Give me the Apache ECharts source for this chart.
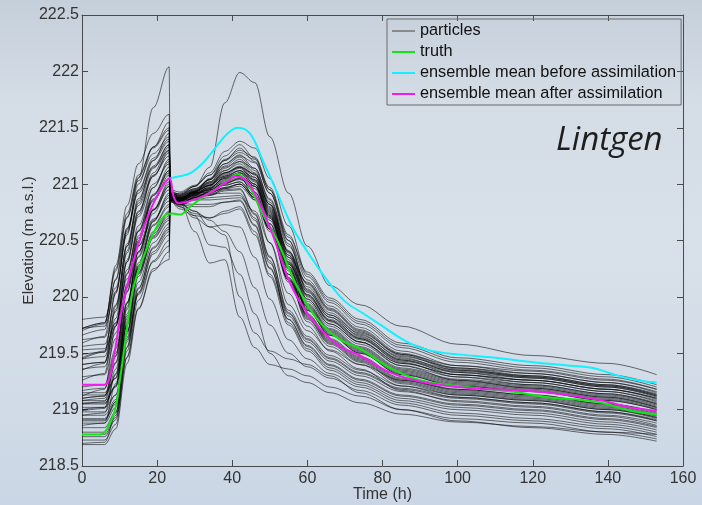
<!DOCTYPE html>
<html>
<head>
<meta charset="utf-8">
<script src="https://cdn.jsdelivr.net/npm/echarts@6/dist/echarts.min.js"></script>
<style>
html,body{margin:0;padding:0;width:702px;height:505px;overflow:hidden;background:#d3dce6;}
#c{width:702px;height:505px;}
</style>
</head>
<body>
<div id="c"></div>
<script>
// ---- data ----
const times = [0, 6, 9, 12, 15, 19, 23.2, 23.5, 26, 30, 34, 38, 42, 46, 50, 55, 60, 66, 74, 85, 100, 120, 140, 153];
const particles = [
[219.80,219.82,220.08,220.55,221.05,221.68,222.04,220.90,220.92,220.98,221.15,221.72,221.99,221.90,221.42,220.92,220.45,220.10,219.93,219.74,219.58,219.48,219.41,219.31],
[218.70,218.71,218.95,219.46,219.90,220.25,220.33,220.86,220.84,220.58,220.30,220.33,219.82,219.55,219.40,219.36,219.30,219.20,219.12,219.00,218.92,218.88,218.80,218.74],
[219.70,219.76,220.28,220.81,221.18,221.45,221.62,220.92,220.90,220.98,221.10,221.29,221.38,221.32,221.05,220.63,220.20,219.97,219.78,219.57,219.44,219.37,219.29,219.20],
[219.72,219.74,220.05,220.60,221.00,221.33,221.55,220.88,220.86,220.93,221.05,221.22,221.30,221.24,220.97,220.55,220.18,219.95,219.76,219.55,219.42,219.35,219.27,219.18],
[219.59,219.65,220.16,220.70,221.06,221.33,221.50,220.94,220.91,220.98,221.08,221.25,221.35,221.23,220.95,220.50,220.06,219.84,219.68,219.49,219.39,219.34,219.26,219.18],
[219.45,219.47,219.81,220.41,220.85,221.21,221.45,220.90,220.88,220.94,221.04,221.18,221.25,221.19,220.92,220.50,220.15,219.92,219.73,219.52,219.39,219.32,219.24,219.15],
[219.46,219.52,220.04,220.59,220.95,221.23,221.40,220.87,220.84,220.90,220.99,221.12,221.20,221.08,220.80,220.35,220.00,219.78,219.62,219.43,219.33,219.28,219.20,219.12],
[219.62,219.64,219.93,220.45,220.83,221.14,221.35,220.91,220.88,220.93,220.99,221.09,221.15,221.03,220.75,220.30,219.98,219.76,219.60,219.41,219.31,219.26,219.18,219.10],
[219.40,219.42,219.74,220.31,220.73,221.07,221.30,220.89,220.87,220.92,220.96,221.06,221.10,221.04,220.77,220.35,220.13,219.90,219.71,219.50,219.37,219.30,219.22,219.13],
[219.35,219.41,219.92,220.45,220.81,221.08,221.25,220.86,220.83,220.88,220.93,221.00,221.05,220.93,220.65,220.20,219.93,219.71,219.55,219.36,219.26,219.21,219.13,219.05],
[219.29,219.31,219.63,220.21,220.63,220.97,221.20,220.93,220.90,220.96,221.02,221.12,221.18,221.06,220.78,220.33,219.96,219.74,219.58,219.39,219.29,219.24,219.16,219.08],
[219.10,219.12,219.47,220.08,220.54,220.90,221.15,220.88,220.85,220.90,220.96,221.06,221.12,221.00,220.72,220.27,219.90,219.68,219.52,219.33,219.23,219.18,219.10,219.02],
[219.05,219.05,219.21,219.91,220.49,220.90,221.10,220.90,220.85,220.92,220.97,221.05,221.08,220.86,220.48,219.93,219.70,219.53,219.40,219.26,219.18,219.13,219.05,218.98],
[219.49,219.51,219.77,220.24,220.58,220.86,221.05,220.85,220.82,220.87,220.90,220.96,221.00,220.88,220.60,220.15,219.92,219.70,219.54,219.35,219.25,219.20,219.12,219.04],
[219.17,219.19,219.50,220.05,220.45,220.78,221.00,220.92,220.90,220.95,221.01,221.10,221.15,221.09,220.82,220.40,220.07,219.84,219.65,219.44,219.31,219.24,219.16,219.07],
[219.13,219.13,219.28,219.89,220.40,220.77,220.95,220.88,220.85,220.89,220.93,220.99,221.02,220.90,220.62,220.17,219.84,219.62,219.46,219.27,219.17,219.12,219.04,218.96],
[219.08,219.10,219.41,219.95,220.35,220.68,220.90,220.87,220.82,220.88,220.90,220.94,220.95,220.73,220.35,219.88,219.65,219.48,219.35,219.21,219.13,219.08,219.00,218.93],
[219.53,219.54,219.77,220.16,220.45,220.69,220.85,220.90,220.87,220.92,220.97,221.05,221.10,220.98,220.70,220.25,219.88,219.66,219.50,219.31,219.21,219.16,219.08,219.00],
[219.06,219.06,219.20,219.79,220.28,220.63,220.80,220.86,220.81,220.86,220.88,220.89,220.90,220.68,220.30,219.85,219.62,219.45,219.32,219.18,219.10,219.05,218.97,218.90],
[218.99,219.01,219.31,219.83,220.22,220.54,220.75,220.89,220.86,220.91,220.95,221.01,221.05,220.93,220.65,220.20,219.83,219.61,219.45,219.26,219.16,219.11,219.03,218.95],
[218.95,218.95,219.09,219.69,220.18,220.53,220.70,220.91,220.88,220.92,220.93,220.96,220.98,220.86,220.58,220.13,219.80,219.58,219.42,219.23,219.13,219.08,219.00,218.92],
[218.91,218.91,219.05,219.64,220.13,220.48,220.65,220.87,220.82,220.80,220.80,220.84,220.85,220.63,220.25,219.83,219.60,219.43,219.30,219.16,219.08,219.03,218.95,218.88],
[218.88,218.88,219.02,219.60,220.08,220.43,220.60,220.85,220.78,220.72,220.70,220.76,220.80,220.58,220.20,219.80,219.57,219.40,219.27,219.13,219.05,219.00,218.92,218.85],
[218.84,218.84,218.98,219.56,220.04,220.38,220.55,220.88,220.85,220.89,220.92,220.97,221.00,220.88,220.60,220.15,219.78,219.56,219.40,219.21,219.11,219.06,218.98,218.90],
[218.73,218.73,218.87,219.47,219.97,220.32,220.50,220.90,220.85,220.90,220.91,220.92,220.92,220.70,220.32,219.77,219.54,219.37,219.24,219.10,219.02,218.97,218.89,218.82],
[219.02,219.02,219.13,219.62,220.02,220.31,220.45,220.86,220.84,220.72,220.46,220.44,220.20,219.85,219.50,219.30,219.24,219.15,219.06,218.96,218.89,218.85,218.80,218.78],
[218.69,218.69,218.83,219.41,219.89,220.23,220.40,220.84,220.82,220.76,220.62,220.55,220.00,219.68,219.52,219.45,219.40,219.30,219.15,219.00,218.90,218.84,218.78,218.72],
[219.72,219.77,220.25,220.74,221.08,221.32,221.48,220.95,220.93,220.99,221.08,221.21,221.28,221.22,220.95,220.53,220.22,219.99,219.80,219.59,219.46,219.39,219.31,219.22],
[219.40,219.42,219.75,220.33,220.75,221.10,221.33,220.90,220.87,220.93,221.01,221.14,221.22,221.10,220.82,220.37,219.98,219.76,219.60,219.41,219.31,219.26,219.18,219.10],
[219.05,219.07,219.42,220.04,220.50,220.87,221.12,220.88,220.86,220.90,220.94,221.02,221.06,221.00,220.73,220.31,220.05,219.82,219.63,219.42,219.29,219.22,219.14,219.05],
[218.90,218.90,219.07,219.77,220.36,220.77,220.98,220.92,220.89,220.94,220.99,221.07,221.12,221.00,220.72,220.27,219.88,219.66,219.50,219.31,219.21,219.16,219.08,219.00],
[219.10,219.12,219.48,220.12,220.58,220.97,221.22,220.87,220.84,220.88,220.92,220.97,221.00,220.88,220.60,220.15,219.85,219.63,219.47,219.28,219.18,219.13,219.05,218.97],
[218.80,218.80,218.97,219.67,220.26,220.67,220.88,220.90,220.87,220.86,220.86,220.87,220.88,220.76,220.48,220.03,219.74,219.52,219.36,219.17,219.07,219.02,218.94,218.86],
[219.45,219.51,220.03,220.57,220.94,221.21,221.38,220.89,220.86,220.93,221.04,221.21,221.32,221.20,220.92,220.47,220.04,219.82,219.66,219.47,219.37,219.32,219.24,219.16],
[219.08,219.08,219.21,219.75,220.20,220.52,220.68,220.86,220.80,220.74,220.70,220.74,220.78,220.55,220.18,219.75,219.52,219.35,219.22,219.08,219.00,218.95,218.87,218.80],
[218.95,218.97,219.32,219.94,220.40,220.77,221.02,220.91,220.89,220.94,221.00,221.10,221.15,221.09,220.82,220.40,220.12,219.89,219.70,219.49,219.36,219.29,219.21,219.12],
[219.72,219.77,220.23,220.71,221.03,221.27,221.42,220.90,220.87,220.93,221.02,221.16,221.24,221.12,220.84,220.39,220.02,219.80,219.64,219.45,219.35,219.30,219.22,219.14],
[219.56,219.58,219.87,220.39,220.76,221.07,221.28,220.88,220.86,220.91,220.98,221.07,221.12,221.06,220.79,220.37,220.09,219.86,219.67,219.46,219.33,219.26,219.18,219.09],
[219.12,219.18,219.74,220.31,220.71,221.00,221.18,220.91,220.88,220.93,220.99,221.08,221.14,221.02,220.74,220.29,219.91,219.69,219.53,219.34,219.24,219.19,219.11,219.03],
[218.86,218.88,219.23,219.85,220.30,220.67,220.92,220.89,220.86,220.91,220.96,221.03,221.08,220.96,220.68,220.23,219.82,219.60,219.44,219.25,219.15,219.10,219.02,218.94],
[219.20,219.22,219.54,220.10,220.52,220.85,221.08,220.86,220.83,220.88,220.94,221.04,221.10,220.98,220.70,220.25,219.89,219.67,219.51,219.32,219.22,219.17,219.09,219.01],
[219.26,219.32,219.89,220.47,220.87,221.16,221.35,220.93,220.91,220.96,221.04,221.15,221.20,221.14,220.87,220.45,220.11,219.88,219.69,219.48,219.35,219.28,219.20,219.11],
[218.98,218.98,219.13,219.75,220.27,220.64,220.82,220.87,220.82,220.88,220.91,220.95,220.96,220.74,220.36,219.86,219.63,219.46,219.33,219.19,219.11,219.06,218.98,218.91],
[219.36,219.38,219.68,220.20,220.59,220.91,221.12,220.90,220.87,220.93,220.99,221.10,221.16,221.04,220.76,220.31,219.94,219.72,219.56,219.37,219.27,219.22,219.14,219.06],
[218.78,218.78,218.93,219.55,220.07,220.44,220.62,220.88,220.83,220.82,220.82,220.84,220.86,220.64,220.26,219.80,219.56,219.39,219.26,219.12,219.04,218.99,218.91,218.84],
[219.66,219.71,220.15,220.61,220.92,221.15,221.30,220.92,220.89,220.95,221.04,221.18,221.26,221.14,220.86,220.41,220.01,219.79,219.63,219.44,219.34,219.29,219.21,219.13],
[219.00,219.02,219.36,219.95,220.39,220.74,220.98,220.89,220.87,220.91,220.95,221.01,221.04,220.98,220.71,220.29,220.02,219.79,219.60,219.39,219.26,219.19,219.11,219.02],
[218.92,218.92,219.07,219.69,220.21,220.58,220.76,220.91,220.88,220.92,220.95,220.99,221.02,220.90,220.62,220.17,219.81,219.59,219.43,219.24,219.14,219.09,219.01,218.93],
[218.76,218.76,218.91,219.52,220.03,220.40,220.58,220.85,220.80,220.70,220.62,220.64,220.62,220.35,219.98,219.62,219.45,219.32,219.20,219.06,218.97,218.92,218.85,218.78],
[219.15,219.15,219.28,219.81,220.25,220.56,220.72,220.87,220.83,220.76,220.68,220.58,220.40,220.08,219.75,219.50,219.38,219.28,219.17,219.04,218.95,218.90,218.83,218.76]
];
const truthT = [0,5,7,8.8,10,11.2,12.5,14,16.8,19.4,22,24,26,28.8,32,36.7,40.2,41.5,44,46.6,49,52,56,60,64,68.7,74,82,90,100,116.6,124,137,146,153];
const truthV = [218.78,218.78,218.85,219.0,219.24,219.53,219.84,220.12,220.39,220.59,220.72,220.74,220.73,220.8,220.88,220.98,221.07,221.09,221.01,220.84,220.68,220.5,220.18,219.93,219.75,219.62,219.54,219.37,219.26,219.21,219.15,219.11,219.07,218.99,218.96];
const beforeT = [23.2,26,29,32,35,38.5,41.5,44.7,48,52,56,60,65,70,75,80,85,90,95,100,110,120,130,136,140,145,150,153];
const beforeV = [221.05,221.07,221.1,221.18,221.3,221.44,221.5,221.45,221.22,220.92,220.62,220.4,220.16,219.96,219.85,219.74,219.63,219.55,219.51,219.49,219.46,219.42,219.39,219.37,219.33,219.28,219.25,219.24];
const afterT = [0,6,7.5,8.8,10.6,13.3,16,18.6,21.3,23.2,24.5,25.7,29.6,34,38.5,41,44,47.4,51,55.4,59.9,64.2,68.7,74,82,90,100,108.6,116.6,124,137,146,153];
const afterV = [219.22,219.22,219.3,219.53,219.88,220.27,220.57,220.8,220.97,221.05,220.88,220.83,220.86,220.92,221.02,221.07,221.02,220.82,220.53,220.12,219.86,219.69,219.56,219.48,219.33,219.25,219.2,219.18,219.17,219.15,219.09,219.02,218.99];
const xTicks = {min: 0, max: 160, step: 20};
const yTicks = {min: 218.5, max: 222.5, step: 0.5};
const legendNames = ['particles', 'truth', 'ensemble mean before assimilation', 'ensemble mean after assimilation'];

// ---- chart ----
const chart = echarts.init(document.getElementById('c'), null, {renderer: 'canvas'});
const zip = (t, v) => t.map((x, i) => [x, v[i]]);
const FONT = 'Liberation Sans, Arial, sans-serif';
const axisCol = '#4a4a4a';

const series = [];
particles.forEach(p => {
  series.push({
    name: legendNames[0], type: 'line', data: zip(times, p),
    showSymbol: false, smooth: 0.35, smoothMonotone: 'x', silent: true,
    lineStyle: {color: 'rgba(0,0,0,0.62)', width: 0.9},
    itemStyle: {color: '#8a8a8a'}, z: 2
  });
});
series.push({name: legendNames[1], type: 'line', data: zip(truthT, truthV), showSymbol: false, smooth: 0.4,
  lineStyle: {color: '#12e612', width: 2}, itemStyle: {color: '#12e612'}, z: 3});
series.push({name: legendNames[2], type: 'line', data: zip(beforeT, beforeV), showSymbol: false, smooth: 0.4,
  lineStyle: {color: '#14f0ff', width: 2}, itemStyle: {color: '#14f0ff'}, z: 3});
series.push({name: legendNames[3], type: 'line', data: zip(afterT, afterV), showSymbol: false, smooth: 0.4,
  lineStyle: {color: '#f01cf0', width: 2}, itemStyle: {color: '#f01cf0'}, z: 4});

const baseX = {type: 'value', min: xTicks.min, max: xTicks.max, interval: xTicks.step,
  axisLine: {show: true, onZero: false, lineStyle: {color: axisCol, width: 1}},
  axisTick: {show: true, inside: true, length: 6, lineStyle: {color: axisCol}},
  splitLine: {show: false}};
const baseY = {type: 'value', min: yTicks.min, max: yTicks.max, interval: yTicks.step,
  axisLine: {show: true, onZero: false, lineStyle: {color: axisCol, width: 1}},
  axisTick: {show: true, inside: true, length: 6, lineStyle: {color: axisCol}},
  splitLine: {show: false}};

chart.setOption({
  animation: false,
  backgroundColor: new echarts.graphic.LinearGradient(0, 0, 0, 1, [
    {offset: 0, color: '#c5cfda'},
    {offset: 0.2, color: '#d4dde6'},
    {offset: 0.5, color: '#d8e0e9'},
    {offset: 0.8, color: '#d1dbe7'},
    {offset: 1, color: '#cad6e5'}
  ]),
  grid: {left: 82, right: 19, top: 15, bottom: 39, containLabel: false, outerBoundsMode: 'none'},
  xAxis: [
    Object.assign({}, baseX, {position: 'bottom', name: 'Time (h)', nameLocation: 'middle', nameGap: 21,
      nameMoveOverlap: false,
      nameTextStyle: {fontSize: 16, color: '#333', fontFamily: FONT},
      axisLabel: {fontSize: 16, color: '#333', fontFamily: FONT, margin: 5}}),
    Object.assign({}, baseX, {position: 'top', axisLabel: {show: false}})
  ],
  yAxis: [
    Object.assign({}, baseY, {position: 'left', name: 'Elevation (m a.s.l.)', nameLocation: 'middle', nameGap: 45,
      nameMoveOverlap: false,
      nameTextStyle: {fontSize: 15.5, color: '#333', fontFamily: FONT},
      axisLabel: {fontSize: 16, color: '#333', fontFamily: FONT, margin: 3}}),
    Object.assign({}, baseY, {position: 'right', axisLabel: {show: false}})
  ],
  legend: {
    show: true, orient: 'vertical', left: 387, top: 19,
    data: legendNames.map(n => ({name: n})),
    icon: 'rect', itemWidth: 23, itemHeight: 2, itemGap: 5,
    selectedMode: false,
    borderColor: '#6a6a6a', borderWidth: 1, padding: [4, 5, 3, 5],
    textStyle: {fontSize: 16.3, color: '#111', fontFamily: FONT, lineHeight: 16}
  },
  graphic: [{
    type: 'text', left: 556, top: 124,
    style: {text: 'Lintgen', font: 'italic 33px "Open Sans", "Noto Sans", sans-serif', fill: '#1e1e1e'}
  }],
  series: series
});
</script>
</body>
</html>
